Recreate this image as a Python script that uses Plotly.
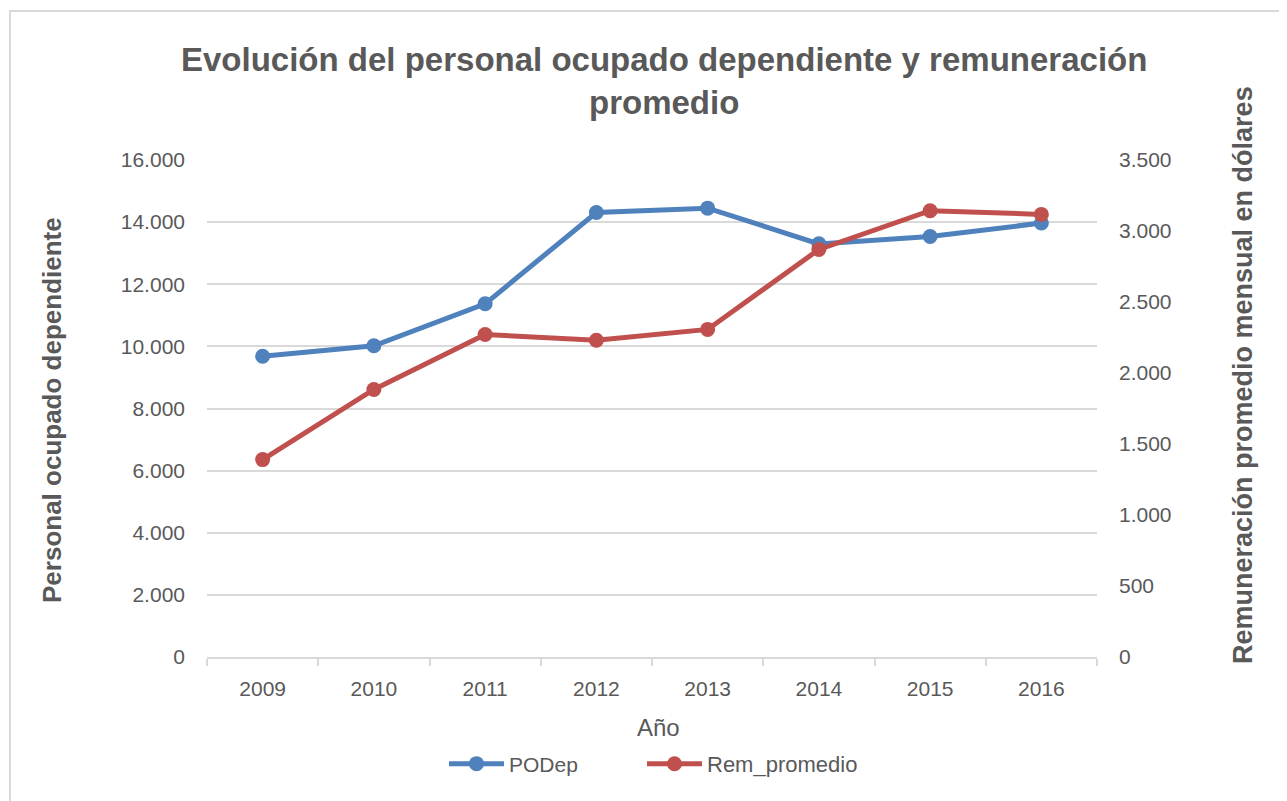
import plotly.graph_objects as go

years = ["2009", "2010", "2011", "2012", "2013", "2014", "2015", "2016"]
podep = [9680, 10020, 11370, 14310, 14450, 13300, 13535, 13970]
rem_promedio = [1390, 1884, 2271, 2231, 2307, 2870, 3143, 3117]

left_ticks = list(range(0, 16001, 2000))
right_ticks = list(range(0, 3501, 500))

OFF = 8  # page body margin
W, H = 1287 - OFF, 801 - OFF
# plot area in page pixels
L, R, T, B = 207, 1097, 160, 657
pw, ph = R - L, B - T

def px(x):
    return (x - L) / pw

def py(y):
    return (B - y) / ph

GRAY = "#595959"
GRID = "#D9D9D9"
BLUE = "#4F81BD"
RED = "#C0504D"
FAM = "Liberation Sans, Arial, sans-serif"
TICKFONT = dict(family=FAM, size=21, color=GRAY)
LEGFONT = dict(family=FAM, size=21, color=GRAY)

fig = go.Figure()
fig.add_trace(go.Scatter(
    x=years, y=podep, name="PODep", mode="lines+markers",
    line=dict(color=BLUE, width=5), marker=dict(color=BLUE, size=15),
    yaxis="y", legend="legend"))
fig.add_trace(go.Scatter(
    x=years, y=rem_promedio, name="Rem_promedio", mode="lines+markers",
    line=dict(color=RED, width=5), marker=dict(color=RED, size=15),
    yaxis="y2", legend="legend2"))

fig.update_layout(
    width=W, height=H,
    margin=dict(l=L - OFF, r=(W + OFF) - R, t=T - OFF, b=(H + OFF) - B),
    paper_bgcolor="white", plot_bgcolor="white",
    separators=",.",
    showlegend=True,
    legend=dict(orientation="h", x=px(444), y=py(764), xanchor="left", yanchor="middle",
                font=LEGFONT, itemwidth=55, bgcolor="rgba(0,0,0,0)"),
    legend2=dict(orientation="h", x=px(642), y=py(764), xanchor="left", yanchor="middle",
                 font=dict(family=FAM, size=22, color=GRAY), itemwidth=55,
                 bgcolor="rgba(0,0,0,0)"),
    xaxis=dict(type="category", range=[-0.5, 7.5], showgrid=False,
               showline=True, linecolor=GRID, linewidth=2,
               ticks="outside", ticklen=7, tickcolor=GRID, tickwidth=2,
               tickson="boundaries", tickfont=TICKFONT, ticklabelstandoff=12),
    yaxis=dict(range=[0, 16000], tickvals=left_ticks, tickformat=",.0f",
               showgrid=True, gridcolor=GRID, gridwidth=2, zeroline=False,
               showline=False, ticks="", tickfont=TICKFONT, ticklabelstandoff=21),
    yaxis2=dict(range=[0, 3500], tickvals=right_ticks, tickformat=",.0f",
                overlaying="y", side="right", showgrid=False, zeroline=False,
                showline=False, ticks="", tickfont=TICKFONT, ticklabelstandoff=21),
)

annotations = [
    dict(text="<b>Evolución del personal ocupado dependiente y remuneración<br>promedio</b>",
         x=px(664), y=py(81), xref="paper", yref="paper", showarrow=False,
         xanchor="center", yanchor="middle",
         font=dict(family=FAM, size=33, color=GRAY)),
    dict(text="<b>Personal ocupado dependiente</b>", textangle=-90,
         x=px(52), y=py(410), xref="paper", yref="paper", showarrow=False,
         xanchor="center", yanchor="middle",
         font=dict(family=FAM, size=26, color=GRAY)),
    dict(text="<b>Remuneración promedio mensual en dólares</b>", textangle=-90,
         x=px(1243), y=py(375), xref="paper", yref="paper", showarrow=False,
         xanchor="center", yanchor="middle",
         font=dict(family=FAM, size=27, color=GRAY)),
    dict(text="Año", x=px(658), y=py(727), xref="paper", yref="paper", showarrow=False,
         xanchor="center", yanchor="middle",
         font=dict(family=FAM, size=24, color=GRAY)),
]
fig.update_layout(annotations=annotations)

fig.add_shape(type="path", xref="paper", yref="paper",
              path=f"M {px(10)} {py(810)} L {px(10)} {py(11)} L {px(1300)} {py(11)}",
              line=dict(color=GRID, width=2))

fig.write_html("out.html")
